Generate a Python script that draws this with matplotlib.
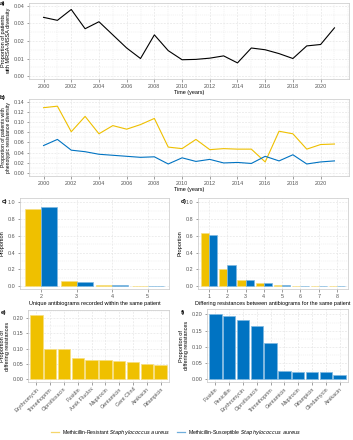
import matplotlib
matplotlib.use("Agg")
import matplotlib.pyplot as plt
import numpy as np
from matplotlib.lines import Line2D

plt.rcParams['font.family'] = ['Liberation Sans', 'DejaVu Sans']

years = list(range(2000, 2022))
div_a = [0.0335, 0.0318, 0.0380, 0.0270, 0.0310, 0.0235, 0.0160, 0.0100, 0.0235, 0.0145,
         0.0093, 0.0095, 0.0102, 0.0115, 0.0075, 0.0160, 0.0150, 0.0128, 0.0100, 0.0172,
         0.0180, 0.0275]
mrsa_b = [0.128, 0.131, 0.081, 0.111, 0.077, 0.093, 0.086, 0.095, 0.107, 0.051, 0.048,
          0.066, 0.046, 0.048, 0.047, 0.047, 0.022, 0.082, 0.077, 0.047, 0.056, 0.057]
mssa_b = [0.054, 0.066, 0.045, 0.042, 0.037, 0.035, 0.033, 0.031, 0.032, 0.018, 0.030,
          0.023, 0.027, 0.020, 0.021, 0.019, 0.033, 0.024, 0.036, 0.018, 0.022, 0.024]

c_cats = ['2', '3', '4', '5']
c_mrsa = [0.92, 0.055, 0.010, 0.005]
c_mssa = [0.94, 0.050, 0.006, 0.0]

d_cats = ['1', '2', '3', '4', '5', '6', '7', '8']
d_mrsa = [0.63, 0.20, 0.070, 0.040, 0.010, 0.005, 0.005, 0.005]
d_mssa = [0.61, 0.25, 0.075, 0.030, 0.010, 0.0, 0.0, 0.0]

e_labels = ['Erythromycin', 'Trimethoprim', 'Ciprofloxacin', 'Fusidin', 'Amik Fluclox',
            'Mupirocin', 'Gentamicin', 'Gent Clind', 'Amikacin', 'Rifampicin']
e_vals = [0.210, 0.099, 0.098, 0.071, 0.064, 0.064, 0.059, 0.057, 0.050, 0.048]

f_labels = ['Fusidin', 'Penicillin', 'Erythromycin', 'Ciprofloxacin', 'Trimethoprim',
            'Gentamicin', 'Mupirocin', 'Rifampicin', 'Clindamycin', 'Amikacin']
f_vals = [0.201, 0.195, 0.183, 0.165, 0.112, 0.026, 0.023, 0.023, 0.021, 0.012]

YEL = '#EFC000'
BLU = '#0073C2'
YEL_E = '#F7DE80'
BLU_E = '#80B9E0'

W, H = 353, 440
fig = plt.figure(figsize=(W/100, H/100), dpi=100)

def ax_px(l, t, r, b):
    return fig.add_axes([l/W, 1-b/H, (r-l)/W, (b-t)/H])

TICK_FS = 3.9
TITLE_FS = 4.0
GRID_C = '#E3E3E3'

def style(ax, minor_x=False, minor_y=True):
    for s in ax.spines.values():
        s.set_color('#C8C8C8')
        s.set_linewidth(0.5)
    ax.tick_params(axis='both', labelsize=TICK_FS, colors='#555555', length=1.8,
                   width=0.4, pad=1.5)
    ax.set_axisbelow(True)
    ax.grid(True, which='major', color=GRID_C, lw=0.45, ls=(0, (3, 2)))
    if minor_y:
        ax.yaxis.set_minor_locator(matplotlib.ticker.AutoMinorLocator(2))
        ax.grid(True, which='minor', axis='y', color=GRID_C, lw=0.3, ls=(0, (3, 2)))
    if minor_x:
        ax.xaxis.set_minor_locator(matplotlib.ticker.AutoMinorLocator(2))
        ax.grid(True, which='minor', axis='x', color=GRID_C, lw=0.3, ls=(0, (3, 2)))
    ax.tick_params(which='minor', length=0)

def plab(x, y, s):
    fig.text(x/W, 1-y/H, s, fontsize=4.5, fontweight='bold', ha='left', va='center')

# a
axa = ax_px(29, 3, 349, 79)
axa.plot(years, div_a, color='black', lw=0.8)
axa.set_xlim(1998.95, 2022.05)
axa.set_ylim(-0.0017, 0.0417)
axa.set_xticks(range(2000, 2022, 2))
axa.set_yticks([0, 0.01, 0.02, 0.03, 0.04])
axa.set_yticklabels(['0.00', '0.01', '0.02', '0.03', '0.04'])
style(axa, minor_x=True)
axa.set_xlabel('Time (years)', fontsize=TITLE_FS, labelpad=1)
axa.set_ylabel('Proportion of patients\nwith MRSA-MSSA diversity', fontsize=TITLE_FS,
               labelpad=2, linespacing=1.0)
plab(0, 4, 'a)')

# b
axb = ax_px(29, 99, 349, 176)
axb.plot(years, mrsa_b, color=YEL, lw=0.8)
axb.plot(years, mssa_b, color=BLU, lw=0.8)
axb.set_xlim(1998.95, 2022.05)
axb.set_ylim(-0.0055, 0.145)
axb.set_xticks(range(2000, 2022, 2))
axb.set_yticks(np.arange(0, 0.141, 0.02))
axb.set_yticklabels(['0.00', '0.02', '0.04', '0.06', '0.08', '0.10', '0.12', '0.14'])
style(axb, minor_x=True)
axb.set_xlabel('Time (years)', fontsize=TITLE_FS, labelpad=1)
axb.set_ylabel('Proportion of patients with\nphenotypic resistance diversity',
               fontsize=3.7, labelpad=2, linespacing=1.0)
plab(0, 97, 'b)')

def dodge(ax, cats, m1, m2):
    x = np.arange(len(cats))
    w = 0.45
    ax.bar(x - w/2, m1, width=w, color=YEL, edgecolor=YEL_E, lw=0.5)
    ax.bar(x + w/2, m2, width=w, color=BLU, edgecolor=BLU_E, lw=0.5)
    ax.set_xticks(x)
    ax.set_xticklabels(cats)
    ax.set_xlim(-0.6, len(cats) - 0.4)
    ax.set_ylim(-0.036, 1.053)
    ax.set_yticks([0, 0.2, 0.4, 0.6, 0.8, 1.0])
    ax.set_yticklabels(['0.0', '0.2', '0.4', '0.6', '0.8', '1.0'])
    style(ax)
    ax.set_ylabel('Proportion', fontsize=TITLE_FS, labelpad=2)

# c
axc = ax_px(20, 198, 169, 289)
dodge(axc, c_cats, c_mrsa, c_mssa)
axc.set_xlabel('Unique antibiograms recorded within the same patient', fontsize=TITLE_FS,
               labelpad=1.5)
plab(2, 201, 'c)')

# d
axd = ax_px(198, 198, 348, 289)
dodge(axd, d_cats, d_mrsa, d_mssa)
axd.set_xlabel('Differing resistances between antibiograms for the same patient',
               fontsize=TITLE_FS, labelpad=1.5)
plab(181, 201, 'd)')

def single(ax, labels, vals, col, edge, ylim):
    x = np.arange(len(labels))
    ax.bar(x, vals, width=0.9, color=col, edgecolor=edge, lw=0.5)
    ax.set_xticks(x)
    ax.set_xticklabels(labels, rotation=45, ha='right', rotation_mode='anchor')
    ax.set_xlim(-0.6, len(labels) - 0.4)
    ax.set_ylim(*ylim)
    ax.set_yticks([0, 0.05, 0.10, 0.15, 0.20])
    ax.set_yticklabels(['0.00', '0.05', '0.10', '0.15', '0.20'])
    style(ax)
    ax.set_ylabel('Proportion of\ndiffering resistances', fontsize=TITLE_FS, labelpad=2,
                  linespacing=1.0)

# e
axe = ax_px(28, 310, 169, 382)
single(axe, e_labels, e_vals, YEL, YEL_E, (-0.009, 0.227))
plab(1, 312, 'e)')

# f
axf = ax_px(207, 309, 348, 382)
single(axf, f_labels, f_vals, BLU, BLU_E, (-0.0084, 0.2168))
plab(181, 312, 'f)')

handles = [Line2D([], [], color='#F5D66A', lw=0.9),
           Line2D([], [], color='#6FAEDC', lw=0.9)]
labels = [r'Methicillin-Resistant$\ \it{Staphylococcus\ aureus}$',
          r'Methicillin-Susceptible$\ \it{Staphylococcus\ aureus}$']
fig.legend(handles, labels, loc='center', bbox_to_anchor=(0.5, 1 - 432/H), ncol=2,
           frameon=False, fontsize=3.7, handlelength=1.6, columnspacing=1.2,
           handletextpad=0.6)

fig.savefig('out.png', dpi=100)
